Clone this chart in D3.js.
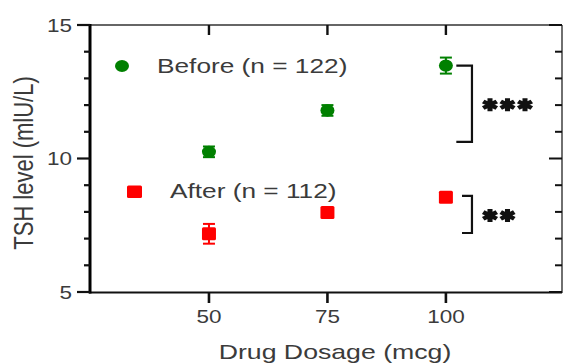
<!DOCTYPE html>
<html>
<head>
<meta charset="utf-8">
<script src="https://cdn.jsdelivr.net/npm/d3@7"></script>
<style>
  body { margin: 0; background: #fff; }
  text { font-family: Arial, "Liberation Sans", sans-serif; fill: #3b3b3b; }
</style>
</head>
<body>
<svg id="chart" width="563" height="364"></svg>
<script>
// data
var doses = [50, 75, 100];
var beforeMean = [10.25, 11.8, 13.48];
var beforeErr = [0.2, 0.2, 0.3];
var afterMean = [7.18, 7.98, 8.55];
var afterErr = [0.37, 0.15, 0.12];
var xTicks = [50, 75, 100];
var yTicks = [5, 10, 15];
var yMinor = [6, 7, 8, 9, 11, 12, 13, 14];
// significance brackets: [top, bottom] in mIU/L and label
var brackets = [
  { top: 13.48, bottom: 10.62, x: 105.5, stub: 102.2, label: 3 },
  { top: 8.6, bottom: 7.21, x: 105.5, stub: 103.4, label: 2 }
];

var svg = d3.select('#chart');
var x = d3.scaleLinear().domain([25, 124.5]).range([90.5, 562]);
var y = d3.scaleLinear().domain([5, 15]).range([292, 25]);
var sx = 1.25; // the original figure is stretched horizontally

// frame: top and right
svg.append('line').attr('x1', 90).attr('x2', 562).attr('y1', 25).attr('y2', 25)
  .attr('stroke', '#333').attr('stroke-width', 1.6);
svg.append('line').attr('x1', 562).attr('x2', 562).attr('y1', 25).attr('y2', 293)
  .attr('stroke', '#333').attr('stroke-width', 1.4);

// top ticks (inward)
svg.selectAll('.ttick').data(xTicks).enter().append('line')
  .attr('x1', d => x(d)).attr('x2', d => x(d)).attr('y1', 25).attr('y2', 35)
  .attr('stroke', '#111').attr('stroke-width', 2.4);

// right ticks (inward)
svg.selectAll('.rtick').data(yTicks.concat(yMinor)).enter().append('line')
  .attr('x1', d => yTicks.indexOf(d) >= 0 ? 549 : 555).attr('x2', 562)
  .attr('y1', d => y(d)).attr('y2', d => y(d))
  .attr('stroke', '#111').attr('stroke-width', 2);

// bottom axis
svg.append('line').attr('x1', 89).attr('x2', 562).attr('y1', 292.5).attr('y2', 292.5)
  .attr('stroke', '#111').attr('stroke-width', 2);
svg.selectAll('.btick').data(xTicks).enter().append('line')
  .attr('x1', d => x(d)).attr('x2', d => x(d)).attr('y1', 292).attr('y2', 303)
  .attr('stroke', '#111').attr('stroke-width', 2.6);
svg.selectAll('.blab').data(xTicks).enter().append('text')
  .attr('transform', d => 'translate(' + x(d) + ',323) scale(' + sx + ',1)')
  .attr('text-anchor', 'middle').style('font-size', '18px').text(d => d);

// left axis
svg.append('line').attr('x1', 90).attr('x2', 90).attr('y1', 24).attr('y2', 293.5)
  .attr('stroke', '#000').attr('stroke-width', 3);
svg.selectAll('.lmaj').data(yTicks).enter().append('line')
  .attr('x1', 77).attr('x2', 90).attr('y1', d => y(d)).attr('y2', d => y(d))
  .attr('stroke', '#111').attr('stroke-width', 2.2);
svg.selectAll('.lmin').data(yMinor).enter().append('line')
  .attr('x1', 84).attr('x2', 90).attr('y1', d => y(d)).attr('y2', d => y(d))
  .attr('stroke', '#111').attr('stroke-width', 2.2);
svg.selectAll('.llab').data(yTicks).enter().append('text')
  .attr('transform', d => 'translate(72,' + (y(d) + 6.5) + ') scale(' + sx + ',1)')
  .attr('text-anchor', 'end').style('font-size', '18px').text(d => d);

// axis titles
svg.append('text')
  .attr('transform', 'translate(335,359) scale(1.27,1)')
  .attr('text-anchor', 'middle').style('font-size', '21px').text('Drug Dosage (mcg)');
svg.append('text')
  .attr('transform', 'translate(33,163) scale(1.27,1) rotate(-90)')
  .attr('text-anchor', 'middle').style('font-size', '22px').text('TSH level (mlU/L)');

// error bars + markers
function errBars(mean, err, color) {
  var g = svg.append('g').attr('stroke', color).attr('stroke-width', 2);
  doses.forEach(function (d, i) {
    var cx = x(d), lo = y(mean[i] - err[i]), hi = y(mean[i] + err[i]);
    g.append('line').attr('x1', cx).attr('x2', cx).attr('y1', lo).attr('y2', hi);
    g.append('line').attr('x1', cx - 6).attr('x2', cx + 6).attr('y1', lo).attr('y2', lo);
    g.append('line').attr('x1', cx - 6).attr('x2', cx + 6).attr('y1', hi).attr('y2', hi);
  });
}
errBars(beforeMean, beforeErr, '#008000');
errBars(afterMean, afterErr, '#ff0000');

svg.selectAll('.before').data(doses).enter().append('ellipse')
  .attr('cx', d => x(d)).attr('cy', (d, i) => y(beforeMean[i]))
  .attr('rx', 7).attr('ry', 6.2).attr('fill', '#008000');
svg.selectAll('.after').data(doses).enter().append('rect')
  .attr('x', d => x(d) - 7).attr('y', (d, i) => y(afterMean[i]) - 6.5)
  .attr('width', 14).attr('height', 13).attr('rx', 1.5).attr('fill', '#ff0000');

// legend
svg.append('ellipse').attr('cx', 122).attr('cy', 66).attr('rx', 7).attr('ry', 6)
  .attr('fill', '#008000');
svg.append('text').attr('transform', 'translate(157,73) scale(' + sx + ',1)')
  .style('font-size', '21px').text('Before (n = 122)');
svg.append('rect').attr('x', 127).attr('y', 185.5).attr('width', 15).attr('height', 12.5)
  .attr('rx', 1.5).attr('fill', '#ff0000');
svg.append('text').attr('transform', 'translate(170,198) scale(' + sx + ',1)')
  .style('font-size', '21px').text('After (n = 112)');

// significance brackets
var star = d3.symbol().type(d3.symbolAsterisk).size(120);
brackets.forEach(function (b) {
  var xs = x(b.x), x0 = x(b.stub);
  svg.append('path')
    .attr('d', 'M' + x0 + ',' + y(b.top) + 'H' + xs + 'V' + y(b.bottom) + 'H' + x0)
    .attr('fill', 'none').attr('stroke', '#111').attr('stroke-width', 2.2);
  var cy = (y(b.top) + y(b.bottom)) / 2 + 1;
  d3.range(b.label).forEach(function (k) {
    svg.append('path').attr('d', star())
      .attr('transform', 'translate(' + (490 + k * 17.5) + ',' + cy + ') scale(1.2,1)')
      .attr('fill', 'none').attr('stroke', '#111').attr('stroke-width', 4.2);
  });
});
</script>
</body>
</html>
